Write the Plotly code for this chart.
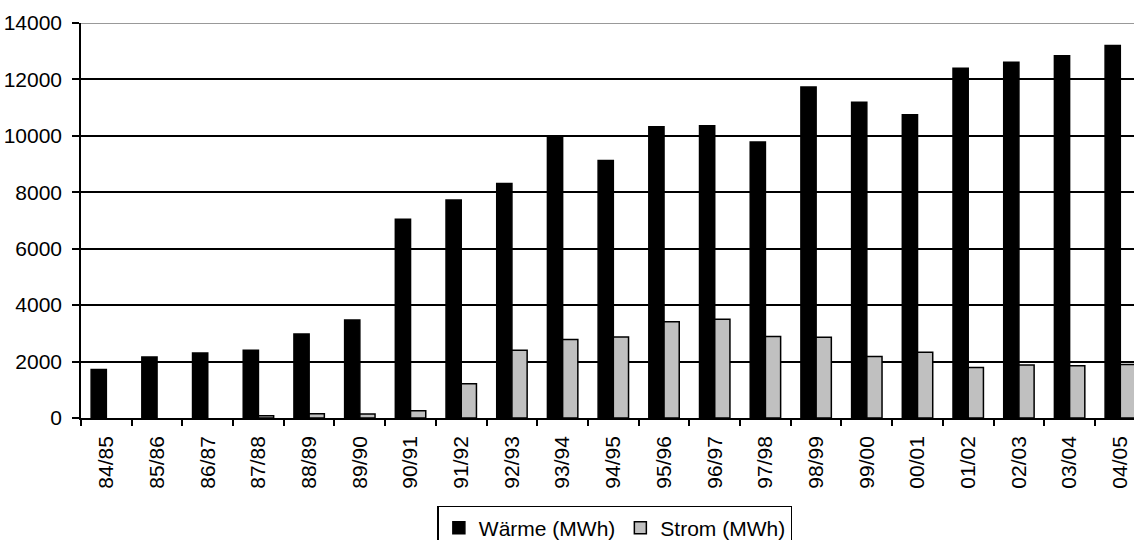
import plotly.graph_objects as go

# Heizperioden (Winterhalbjahre)
seasons = ["84/85", "85/86", "86/87", "87/88", "88/89", "89/90", "90/91",
           "91/92", "92/93", "93/94", "94/95", "95/96", "96/97", "97/98",
           "98/99", "99/00", "00/01", "01/02", "02/03", "03/04", "04/05"]

# Erzeugte Wärme in MWh
waerme = [1720, 2160, 2300, 2400, 2980, 3470, 7040,
          7730, 8310, 9930, 9130, 10320, 10360, 9780,
          11730, 11190, 10750, 12400, 12610, 12840, 13200]

# Erzeugter Strom in MWh (in den ersten Jahren noch keine Stromerzeugung)
strom = [None, None, None, 80, 150, 140, 260,
         1210, 2400, 2780, 2870, 3410, 3500, 2890,
         2860, 2180, 2330, 1790, 1880, 1850, 1900]

y_ticks = [0, 2000, 4000, 6000, 8000, 10000, 12000, 14000]

FONT = "Liberation Sans, Arial, sans-serif"

fig = go.Figure()
fig.add_trace(go.Bar(
    x=seasons, y=waerme, name="Wärme (MWh)",
    marker=dict(color="#000000", line=dict(color="#000000", width=1.5)),
))
fig.add_trace(go.Bar(
    x=seasons, y=strom, name="Strom (MWh)",
    marker=dict(color="#C0C0C0", line=dict(color="#000000", width=1.5)),
))

# top border of the plot area in grey
fig.add_shape(type="line", xref="paper", yref="y", x0=0, x1=1, y0=14000, y1=14000,
              line=dict(color="#999999", width=2), layer="above")

fig.update_layout(
    width=1134, height=540,
    margin=dict(l=81, r=0, t=23, b=122),
    paper_bgcolor="white", plot_bgcolor="white",
    barmode="group", bargap=0.4, bargroupgap=0,
    font=dict(family=FONT, size=21, color="#000000"),
    showlegend=True,
    legend=dict(
        orientation="h", x=0.507, xanchor="center",
        yref="container", y=0.063, yanchor="top",
        bordercolor="#000000", borderwidth=1.5, bgcolor="white",
        font=dict(family=FONT, size=21, color="#000000"),
    ),
    xaxis=dict(
        type="category", range=[-0.5, 20.27], automargin=False,
        showline=True, linecolor="#000000", linewidth=1.5,
        ticks="outside", tickson="boundaries", ticklen=6, tickwidth=1.5,
        tickcolor="#000000", tickangle=-90, showgrid=False,
        ticklabelstandoff=8,
        tickfont=dict(family=FONT, size=21),
    ),
    yaxis=dict(
        range=[0, 14000], tickvals=y_ticks, ticktext=[str(v) for v in y_ticks],
        automargin=False,
        showline=True, linecolor="#000000", linewidth=1.5,
        ticks="outside", ticklen=7, tickwidth=1.5, tickcolor="#000000",
        showgrid=True, gridcolor="#000000", gridwidth=1.5,
        ticklabelstandoff=6,
        zeroline=False, tickfont=dict(family=FONT, size=21),
    ),
)

fig.write_html("out.html")
